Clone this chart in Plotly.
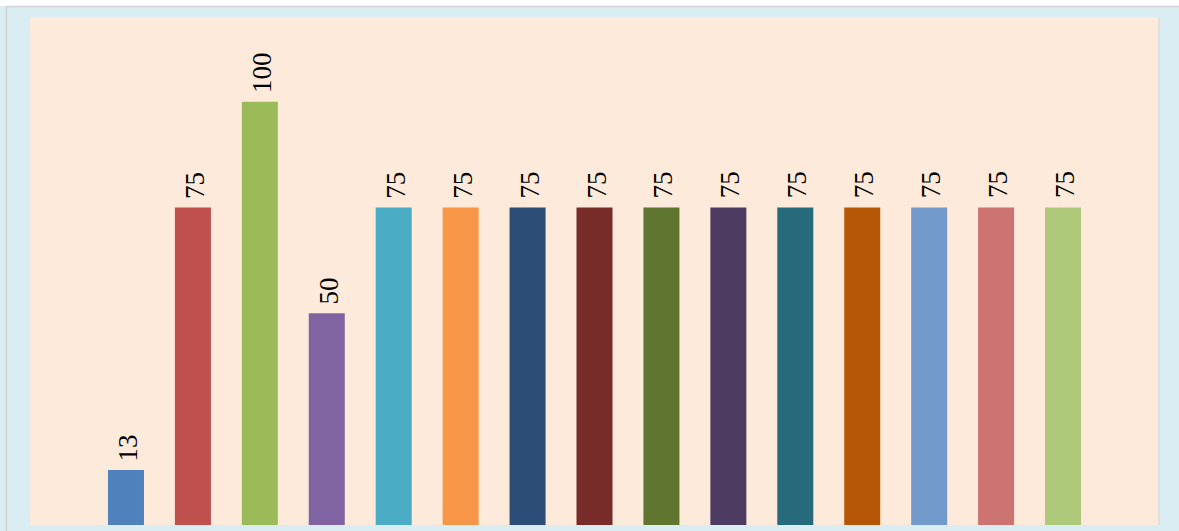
import plotly.graph_objects as go

categories = [f"C{i}" for i in range(1, 16)]
values = [13, 75, 100, 50, 75, 75, 75, 75, 75, 75, 75, 75, 75, 75, 75]
colors = ["#4F81BD", "#C0504D", "#9BBB59", "#8064A2", "#4BACC6", "#F79646",
          "#2C4D75", "#772C2A", "#5F7530", "#4D3B62", "#276A7C", "#B65708",
          "#729ACA", "#CD7371", "#AFC97A"]

fig = go.Figure(go.Bar(
    x=categories, y=values, marker=dict(color=colors, line=dict(width=0)),
    width=0.538, cliponaxis=False, hoverinfo="skip",
))

for c, v in zip(categories, values):
    fig.add_annotation(
        x=c, y=v, text=str(v), showarrow=False, textangle=-90,
        xanchor="center", yanchor="bottom", yshift=7, xshift=2,
        font=dict(family="Liberation Serif, Times New Roman, serif", size=27, color="black"),
    )

W, H = 1179, 531
ml, mr, mt, mb = 30, 21, 17, 6
ph = H - mt - mb
pw = W - ml - mr

def py(px):
    return 1 - (px - mt) / ph

def pxx(px):
    return (px - ml) / pw

fig.update_layout(
    width=W, height=H,
    margin=dict(l=ml, r=mr, t=mt, b=mb),
    paper_bgcolor="#DAEDF3",
    plot_bgcolor="#FDEADA",
    showlegend=False,
    xaxis=dict(range=[-1.434, 15.419], showticklabels=False, showgrid=False,
               zeroline=False, showline=False, ticks=""),
    yaxis=dict(range=[0, 120], showticklabels=False, showgrid=False,
               zeroline=False, showline=False, ticks=""),
    shapes=[
        dict(type="rect", xref="paper", yref="paper", x0=pxx(0), x1=pxx(W),
             y0=py(0), y1=py(6), fillcolor="white", line=dict(width=0), layer="below"),
        dict(type="line", xref="paper", yref="paper", x0=pxx(6), x1=pxx(W),
             y0=py(6.5), y1=py(6.5), line=dict(color="#D0D4D6", width=1.5), layer="below"),
        dict(type="line", xref="paper", yref="paper", x0=pxx(6.5), x1=pxx(6.5),
             y0=py(6), y1=py(H), line=dict(color="#D0D4D6", width=1.5), layer="below"),
        dict(type="line", xref="paper", yref="paper", x0=pxx(1159), x1=pxx(1159),
             y0=py(17), y1=py(525), line=dict(color="#E2DCD6", width=1.5), layer="below"),
    ],
)

fig.write_html("out.html", config={"displayModeBar": False},
               post_script="document.body.style.margin='0';")
